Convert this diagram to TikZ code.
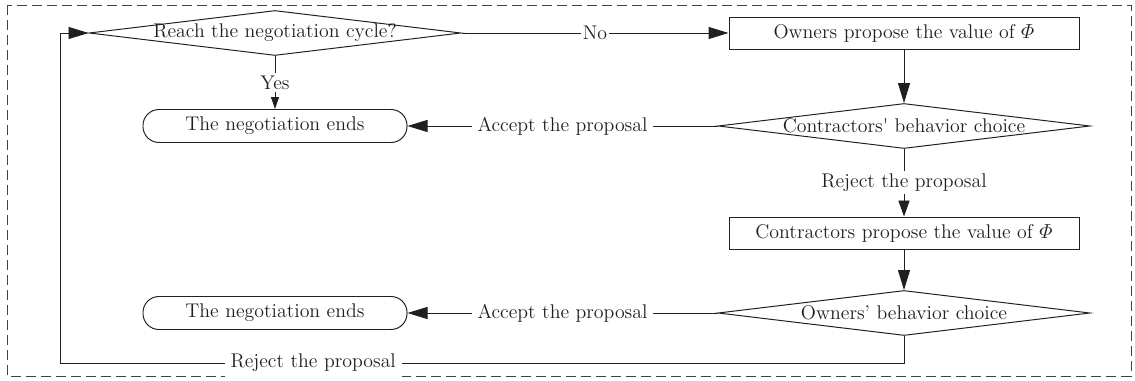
\documentclass[tikz,border=0pt]{standalone}
\usepackage{amsmath}
\usetikzlibrary{arrows.meta,shapes.geometric}
\definecolor{ink}{RGB}{35,31,32}

\begin{document}
\begin{tikzpicture}[x=0.25mm, y=-0.25mm,
  every node/.style={font=\fontsize{14.1}{16}\selectfont, text=ink},
  box/.style={draw=ink, line width=0.7pt, minimum width=87.5mm, minimum height=8mm, inner sep=0pt},
  endbox/.style={draw=ink, line width=0.7pt, rounded corners=4mm, minimum width=66mm, minimum height=8.25mm, inner sep=0pt},
  decide/.style={draw=ink, diamond, aspect=8.3, line width=0.7pt, minimum width=93mm, minimum height=11.25mm, inner xsep=0pt, inner ysep=-2mm},
  arr/.style={-{Triangle[length=5mm, width=3mm]}, draw=ink, line width=0.7pt},
  lbl/.style={fill=white, inner xsep=4pt, inner ysep=2pt}
]
\useasboundingbox (0,0) rectangle (1135,381);
\draw[ink!85, line width=0.5pt, dash pattern=on 2.5mm off 1.25mm] (7,5) rectangle (1131,376);

\node[decide] (reach) at (275,33) {Reach the negotiation cycle?};
\node[box] (ownprop) at (904,33) {Owners propose the value of $\varPhi$};
\node[endbox] (end1) at (275,126) {The negotiation ends};
\node[decide] (condec) at (904,126) {Contractors\textquotesingle{} behavior choice};
\node[box] (conprop) at (904,233) {Contractors propose the value of $\varPhi$};
\node[endbox] (end2) at (275,313) {The negotiation ends};
\node[decide] (owndec) at (904,313) {Owners’ behavior choice};
\coordinate (loop) at (60,363);

\draw[arr] (reach) -- node[lbl, inner xsep=1pt] {No} (ownprop);
\draw[arr, -{Triangle[length=3mm, width=2mm]}] (reach) -- node[lbl] {Yes} (end1);
\draw[arr] (ownprop) -- (condec);
\draw[arr] (condec) -- node[lbl] {Accept the proposal} (end1);
\draw[arr, -{Triangle[length=4mm, width=2.8mm]}] (condec) -- node[lbl] {Reject the proposal} (conprop);
\draw[arr] (conprop) -- (owndec);
\draw[arr] (owndec) -- node[lbl] {Accept the proposal} (end2);
\draw[arr] (owndec.south) |- node[lbl, pos=0.85, inner ysep=4pt] {Reject the proposal} (loop) |- (reach.west);
\end{tikzpicture}
\end{document}
